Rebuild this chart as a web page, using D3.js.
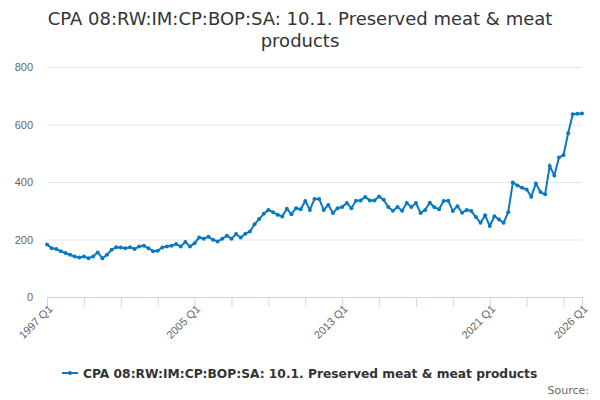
<!DOCTYPE html>
<html>
<head>
<meta charset="utf-8">
<script src="https://cdn.jsdelivr.net/npm/d3@7"></script>
<style>
  body { margin: 0; background: #fff; }
  svg { font-family: "DejaVu Sans", sans-serif; }
</style>
</head>
<body>
<div id="chart"></div>
<script>
// quarterly values, 1997 Q1 .. 2026 Q1
var values = [
  183, 170, 167, 159, 153, 147, 141, 137, 141, 135, 141, 155, 135, 147, 164, 173,
  172, 170, 173, 167, 176, 178, 170, 159, 161, 172, 176, 178, 184, 176, 191, 176,
  187, 207, 203, 210, 199, 193, 203, 213, 203, 219, 207, 220, 228, 253, 271, 290,
  303, 295, 286, 280, 307, 288, 309, 305, 334, 303, 341, 341, 303, 320, 292, 309,
  313, 327, 309, 335, 336, 348, 336, 336, 350, 338, 313, 300, 313, 300, 327, 313,
  327, 292, 303, 328, 312, 305, 334, 335, 299, 316, 293, 303, 299, 278, 258, 284,
  247, 281, 270, 258, 295, 398, 388, 380, 374, 349, 395, 365, 357, 456, 423, 485,
  494, 570, 636, 637, 638
];
var startYear = 1997;
var tickLabels = ["1997 Q1", "2005 Q1", "2013 Q1", "2021 Q1", "2026 Q1"];
var yTicks = [0, 200, 400, 600, 800];
var seriesName = "CPA 08:RW:IM:CP:BOP:SA: 10.1. Preserved meat & meat products";
var titleLines = ["CPA 08:RW:IM:CP:BOP:SA: 10.1. Preserved meat & meat", "products"];

var quarters = values.map(function (v, i) {
  return (startYear + Math.floor(i / 4)) + " Q" + (i % 4 + 1);
});
var data = values.map(function (v, i) { return { q: quarters[i], v: v }; });

var width = 600, height = 400;
var margin = { top: 67, right: 18, bottom: 103, left: 47 };

var svg = d3.select("#chart").append("svg")
  .attr("width", width)
  .attr("height", height);

var x = d3.scalePoint()
  .domain(quarters)
  .range([margin.left, width - margin.right]);

var y = d3.scaleLinear()
  .domain([0, 800])
  .range([height - margin.bottom, margin.top]);

// title
svg.append("text")
  .attr("x", width / 2)
  .attr("y", 25)
  .attr("text-anchor", "middle")
  .style("font-size", "18px")
  .attr("fill", "#333")
  .selectAll("tspan")
  .data(titleLines)
  .enter().append("tspan")
  .attr("x", width / 2)
  .attr("dy", function (d, i) { return i ? 22 : 0; })
  .text(function (d) { return d; });

// grid + y labels
var yAxis = svg.append("g")
  .attr("transform", "translate(" + margin.left + ",0)")
  .call(d3.axisLeft(y).tickValues(yTicks)
    .tickSize(-(width - margin.left - margin.right))
    .tickPadding(14));
yAxis.select(".domain").remove();
yAxis.selectAll("line").attr("stroke", "#e6e6e6");
yAxis.selectAll("text").attr("fill", "#666").style("font-size", "11px");

// x axis: tick every 2 years, labels on tickLabels only
var xTickVals = quarters.filter(function (q, i) { return i % 8 === 0; });
xTickVals.push(quarters[quarters.length - 1]);
var xAxis = svg.append("g")
  .attr("transform", "translate(0," + y(0) + ")")
  .call(d3.axisBottom(x).tickValues(xTickVals).tickSize(10).tickSizeOuter(0)
    .tickFormat(function (d) { return tickLabels.indexOf(d) >= 0 ? d : ""; }));
xAxis.select(".domain").attr("stroke", "#ccd6eb");
xAxis.selectAll("line").attr("stroke", "#ccd6eb");
xAxis.selectAll("text")
  .attr("fill", "#666")
  .style("font-size", "11px")
  .attr("text-anchor", "end")
  .attr("y", 0)
  .attr("dy", "0.35em")
  .attr("transform", "translate(3,10) rotate(-45)");

// line
var color = "#0a79c0";
svg.append("path")
  .datum(data)
  .attr("fill", "none")
  .attr("stroke", color)
  .attr("stroke-width", 2)
  .attr("d", d3.line()
    .x(function (d) { return x(d.q); })
    .y(function (d) { return y(d.v); }));

svg.append("g").selectAll("circle")
  .data(data)
  .enter().append("circle")
  .attr("cx", function (d) { return x(d.q); })
  .attr("cy", function (d) { return y(d.v); })
  .attr("r", 2)
  .attr("fill", color);

// legend
var legend = svg.append("g").attr("transform", "translate(62,373)");
legend.append("line")
  .attr("x1", 0).attr("x2", 16)
  .attr("y1", 0).attr("y2", 0)
  .attr("stroke", color).attr("stroke-width", 2);
legend.append("circle").attr("cx", 8).attr("cy", 0).attr("r", 2).attr("fill", color);
legend.append("text")
  .attr("x", 21)
  .attr("y", 4.5)
  .style("font-size", "12.25px")
  .style("font-weight", "bold")
  .attr("fill", "#333")
  .text(seriesName);

svg.append("text")
  .attr("x", 589)
  .attr("y", 394)
  .attr("text-anchor", "end")
  .style("font-size", "11px")
  .attr("fill", "#666")
  .text("Source:");
</script>
</body>
</html>
